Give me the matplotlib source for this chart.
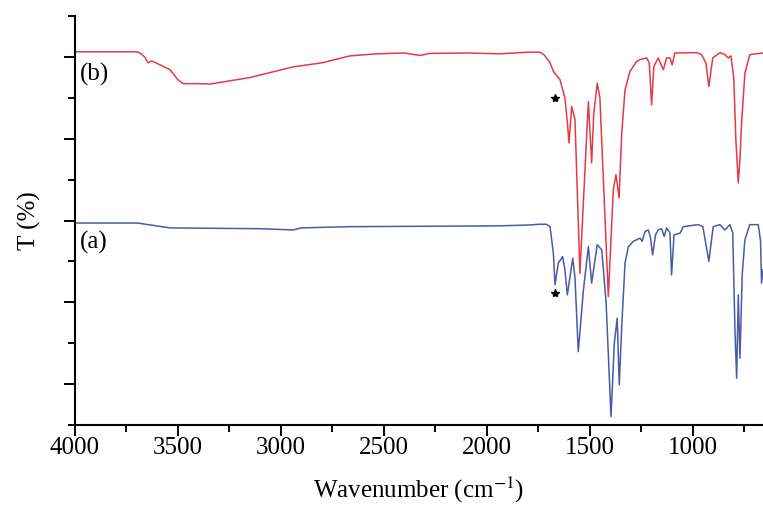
import numpy as np
import matplotlib.pyplot as plt

# ---------------------
# Spectra (wavenumber in cm-1, T in arbitrary %)

wn_b = [4000, 3700, 3683, 3660, 3644, 3630, 3619, 3537, 3500, 3474, 3400, 3343,
        3149, 2940, 2800, 2663, 2532, 2400, 2323, 2275, 2100, 1935, 1800, 1741,
        1720, 1692, 1676, 1644, 1620, 1608, 1600, 1587, 1571, 1547, 1520, 1506,
        1490, 1480, 1463, 1450, 1409, 1385, 1372, 1357, 1344, 1328, 1304, 1272,
        1255, 1223, 1210, 1199, 1188, 1167, 1142, 1126, 1110, 1099, 1086, 980,
        956, 935, 921, 902, 867, 843, 827, 814, 800, 790, 778, 770, 762, 746,
        722, 658]
t_b = [91.3, 91.3, 91.0, 90.0, 88.6, 89.0, 88.9, 86.9, 84.5, 83.5, 83.5, 83.4,
       85.0, 87.6, 88.6, 90.3, 90.8, 91.0, 90.4, 90.9, 91.0, 90.8, 91.2, 91.2,
       90.5, 88.6, 86.5, 84.5, 80.0, 74.0, 69.0, 77.9, 74.7, 37.1, 65.0, 79.1,
       64.1, 76.0, 83.6, 80.0, 31.4, 57.5, 61.2, 55.5, 71.4, 82.0, 86.5, 88.9,
       89.4, 89.8, 88.5, 78.3, 87.7, 89.8, 86.9, 89.8, 89.8, 88.1, 91.0, 91.1,
       90.6, 88.5, 82.8, 89.8, 91.1, 90.6, 89.8, 90.3, 85.0, 70.0, 59.2, 65.0,
       73.9, 86.1, 90.6, 91.0]

wn_a = [4000, 3697, 3537, 3100, 2940, 2900, 2663, 2300, 1935, 1800, 1741, 1710,
        1692, 1676, 1668, 1652, 1631, 1620, 1608, 1582, 1571, 1555, 1530, 1506,
        1490, 1463, 1441, 1420, 1396, 1380, 1366, 1356, 1344, 1328, 1312, 1288,
        1255, 1245, 1231, 1215, 1205, 1194, 1180, 1167, 1150, 1138, 1126, 1110,
        1102, 1090, 1061, 1045, 973, 950, 921, 900, 867, 843, 819, 805, 794, 786,
        778, 770, 759, 746, 722, 681, 670, 665, 658]
t_a = [49.4, 49.4, 48.2, 48.0, 47.7, 48.2, 48.5, 48.6, 48.7, 48.9, 49.1, 49.1,
       48.5, 42.0, 34.3, 39.6, 41.2, 38.0, 31.8, 40.8, 36.0, 17.9, 33.0, 43.6,
       34.7, 44.1, 42.8, 30.0, 2.0, 20.0, 26.1, 9.8, 24.1, 39.6, 43.6, 44.9,
       45.7, 44.9, 47.3, 47.7, 46.0, 41.6, 46.5, 47.7, 48.0, 46.1, 48.2, 47.0,
       36.7, 46.5, 46.9, 48.5, 49.0, 48.5, 40.0, 48.5, 49.0, 47.7, 49.0, 47.0,
       22.8, 11.4, 31.8, 16.3, 36.7, 45.3, 49.0, 49.0, 45.0, 34.7, 38.0]

# starred bands
star_wn = [1668, 1668]
star_t = [80.0, 32.2]

x_ticks = [4000, 3500, 3000, 2500, 2000, 1500, 1000]

plt.rcParams['font.family'] = ['Liberation Serif', 'DejaVu Serif']
plt.rcParams['mathtext.fontset'] = 'stix'

fig = plt.figure(figsize=(7.63, 5.07), dpi=100)
ax = fig.add_axes([0.098, 0.162, 0.902, 0.806])

ax.plot(wn_b, t_b, color='#e43a46', lw=1.1)
ax.plot(wn_a, t_a, color='#4a5aa8', lw=1.1)
ax.plot(star_wn, star_t, ls='none', marker='*', color='black', ms=6)

ax.text(3975, 85.7, '(b)', fontsize=18, ha='left', va='center')
ax.text(3975, 44.6, '(a)', fontsize=18, ha='left', va='center')

ax.set_xlim(4000, 658)
ax.set_ylim(0, 100)
ax.set_xticks(x_ticks)
ax.set_xticks(np.arange(3750, 650, -500), minor=True)
ax.set_yticks([10, 30, 50, 70, 90])
ax.set_yticks([0, 20, 40, 60, 80, 100], minor=True)
ax.set_yticklabels([])

ax.spines['top'].set_visible(False)
ax.spines['right'].set_visible(False)
ax.spines['left'].set_linewidth(1.5)
ax.spines['bottom'].set_linewidth(1.5)
ax.tick_params(which='major', length=8, width=1.4, labelsize=18, pad=1)
ax.tick_params(which='minor', length=5, width=1.4)

ax.set_xlabel('Wavenumber (cm$^{-1}$)', fontsize=18, labelpad=11)
ax.set_ylabel('T (%)', fontsize=18, labelpad=15)

fig.savefig('out.png', dpi=100)
